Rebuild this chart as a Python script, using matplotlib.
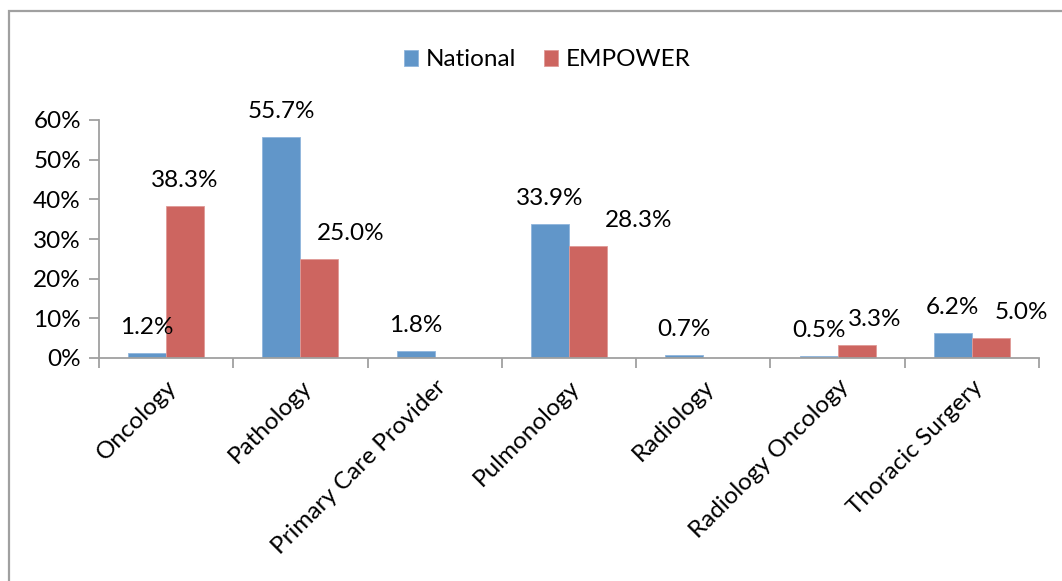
import matplotlib
matplotlib.use("Agg")
from matplotlib import pyplot as plt
from matplotlib.patches import Rectangle
from matplotlib.ticker import FuncFormatter, FixedLocator
import numpy as np

categories = ['Oncology', 'Pathology', 'Primary Care Provider', 'Pulmonology',
              'Radiology', 'Radiology Oncology', 'Thoracic Surgery']
national = [1.2, 55.7, 1.8, 33.9, 0.7, 0.5, 6.2]
empower = [38.3, 25.0, None, 28.3, None, 3.3, 5.0]

# sideways nudge (pixels) for the EMPOWER value labels
empower_dx = [0, 31, 0, 51, 0, 18, 31]

blue = '#6196C9'
red = '#CD6560'

plt.rcParams['font.family'] = ['Lato', 'DejaVu Sans']
fs = 17.5

fig = plt.figure(figsize=(10.62, 5.81), dpi=100)
# chart frame
fig.patches.append(Rectangle((9 / 1062, -0.1), 1.2, 1.1 - 11 / 581,
                             transform=fig.transFigure, fill=False,
                             edgecolor='#a0a0a0', linewidth=1.6))

ax = fig.add_axes([99 / 1062, 1 - 358 / 581, 940 / 1062, 238 / 581])

x = np.arange(len(categories))
w = 0.283
nat_vals = np.array(national)
emp_vals = np.array([np.nan if v is None else v for v in empower])
ax.bar(x - w / 2, nat_vals, w, color=blue, edgecolor='#8fb5dc', linewidth=0.6,
       label='National')
ax.bar(x + w / 2, np.nan_to_num(emp_vals), w, color=red, edgecolor='#e09a96',
       linewidth=0.6, label='EMPOWER')

px = 72 / 100
for i, v in enumerate(national):
    ax.annotate(f'{v:.1f}%', (x[i] - w / 2, v), xytext=(0, 19 * px),
                textcoords='offset points', ha='center', va='baseline', fontsize=fs)
for i, v in enumerate(empower):
    if v is None:
        continue
    ax.annotate(f'{v:.1f}%', (x[i] + w / 2, v), xytext=(empower_dx[i] * px, 19 * px),
                textcoords='offset points', ha='center', va='baseline', fontsize=fs)

ax.set_xlim(-0.5, len(categories) - 0.5)
ax.set_ylim(0, 60)
ax.set_yticks(np.arange(0, 61, 10))
ax.yaxis.set_major_formatter(FuncFormatter(lambda v, p: f'{v:.0f}%'))

ax.xaxis.set_major_locator(FixedLocator(np.arange(-0.5, len(categories), 1.0)))
ax.xaxis.set_minor_locator(FixedLocator(x))
ax.set_xticklabels([], minor=False)
ax.set_xticklabels(categories, minor=True, rotation=45, ha='right',
                   rotation_mode='anchor', fontsize=fs)
ax.tick_params(axis='x', which='minor', length=0, pad=13)
ax.tick_params(axis='x', which='major', length=7, width=1.3, color='#a0a0a0',
               direction='out')
ax.tick_params(axis='y', length=7, width=1.3, color='#a0a0a0', labelsize=fs,
               pad=6)

for s in ['top', 'right']:
    ax.spines[s].set_visible(False)
for s in ['left', 'bottom']:
    ax.spines[s].set_color('#a0a0a0')
    ax.spines[s].set_linewidth(1.3)

fig.legend(loc='center', bbox_to_anchor=(547 / 1062, 1 - 60 / 581), ncol=2,
           frameon=False, fontsize=fs, handlelength=0.6, handleheight=0.6,
           handletextpad=0.3, columnspacing=1.15)

fig.savefig('out.png', dpi=100)
